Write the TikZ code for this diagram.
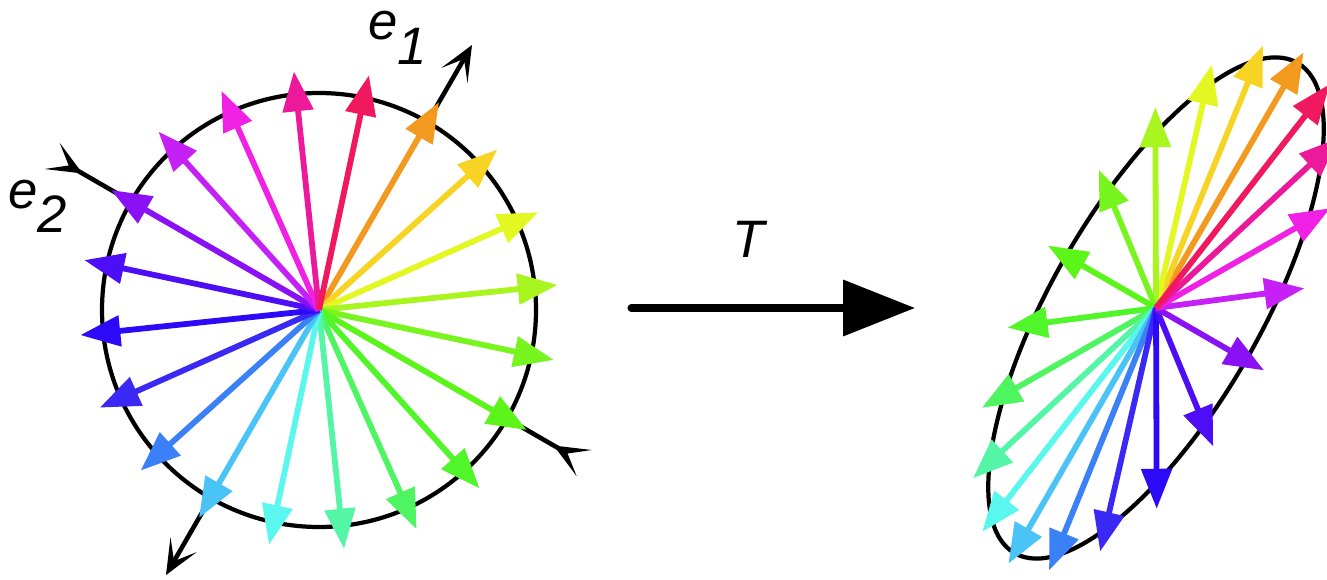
\documentclass[tikz,border=0pt]{standalone}
\usepackage{fontspec}
\setmainfont{Liberation Sans}
\usepackage{tikz}
\usetikzlibrary{arrows.meta, calc}
\definecolor{vorange}{HTML}{F39A1E}
\definecolor{vgold}{HTML}{F7D323}
\definecolor{vyellow}{HTML}{E3F722}
\definecolor{vchart}{HTML}{A8F520}
\definecolor{vlime}{HTML}{78F51E}
\definecolor{vgreena}{HTML}{5CF51A}
\definecolor{vgreenb}{HTML}{50F52A}
\definecolor{vgreenc}{HTML}{4EF560}
\definecolor{vsea}{HTML}{55F5A8}
\definecolor{vcyan}{HTML}{5AF7EE}
\definecolor{vsky}{HTML}{4AC3F7}
\definecolor{vcorn}{HTML}{3A80F7}
\definecolor{vbluea}{HTML}{3A28F5}
\definecolor{vblueb}{HTML}{2D0AF7}
\definecolor{vindigo}{HTML}{4D0DF5}
\definecolor{vpurple}{HTML}{8A10F5}
\definecolor{vviolet}{HTML}{C520F5}
\definecolor{vmagenta}{HTML}{F020E5}
\definecolor{vpink}{HTML}{EC1A9B}
\definecolor{vred}{HTML}{F0185E}
\tikzset{
  vec/.style={line width=3.3pt, -{Triangle[length=0.8cm, width=0.6cm]}},
  ring/.style={draw=black, line width=2.4pt},
  axis/.style={draw=black, line width=2.6pt},
  e1ax/.style={axis, {Stealth[length=0.7cm, width=0.6cm, inset=0.38cm]}-{Stealth[length=0.7cm, width=0.6cm, inset=0.38cm]}},
  e2ax/.style={axis, {Stealth[length=0.7cm, width=0.6cm, inset=0.38cm, reversed]}-{Stealth[length=0.7cm, width=0.6cm, inset=0.38cm, reversed]}},
  tmap/.style={line width=4pt, line cap=round, -{Triangle[length=1.44cm, width=1.1cm]}},
  lab/.style={font=\fontsize{30}{32}\selectfont\itshape, inner sep=0pt},
}

\begin{document}
\begin{tikzpicture}[x=0.02cm, y=0.02cm]
  \path[use as bounding box, clip] (0,0) rectangle (1327,579);
  \coordinate (lc) at (319,269);
  \coordinate (rc) at (1156,271);
  % unit circle and eigen axes
  \draw[ring] (lc) circle [radius=217];
  \coordinate (e1a) at ($(lc)+(240:306)$);
  \coordinate (e1b) at ($(lc)+(60:306)$);
  \coordinate (e2a) at ($(lc)+(150:308)$);
  \coordinate (e2b) at ($(lc)+(-30:306)$);
  \draw[e1ax] (e1a) -- (e1b);
  \draw[e2ax] (e2a) -- (e2b);
  % image ellipse
  \draw[ring, rotate around={60:(rc)}] (rc) ellipse [x radius=283, y radius=104];
  % vectors and their images
  \foreach \col [count=\k from 0] in {vorange, vgold, vyellow, vchart, vlime, vgreena, vgreenb, vgreenc, vsea, vcyan, vsky, vcorn, vbluea, vblueb, vindigo, vpurple, vviolet, vmagenta, vpink, vred} {
    \pgfmathsetmacro{\ang}{60-18*\k}
    \pgfmathsetmacro{\ua}{1.23*240*cos(18*\k)}
    \pgfmathsetmacro{\ub}{0.52*240*sin(18*\k)}
    \coordinate (tl\k) at ($(lc)+(\ang:240)$);
    \coordinate (tr\k) at ($(rc)+(60:\ua)+(150:\ub)$);
    \draw[vec, color=\col] (lc) -- (tl\k);
    \draw[vec, color=\col] (rc) -- (tr\k);
  }
  % the map
  \coordinate (tfrom) at (631,271);
  \coordinate (tto) at (915,271);
  \draw[tmap] (tfrom) -- (tto);
  \node[lab, anchor=base] (tlab) at (749,322) {T};
  \node[lab, anchor=base west] (e1lab) at (368,539) {e\raisebox{-0.46em}{1}};
  \node[lab, anchor=base west] (e2lab) at (8,371) {e\raisebox{-0.46em}{2}};
\end{tikzpicture}
\end{document}
